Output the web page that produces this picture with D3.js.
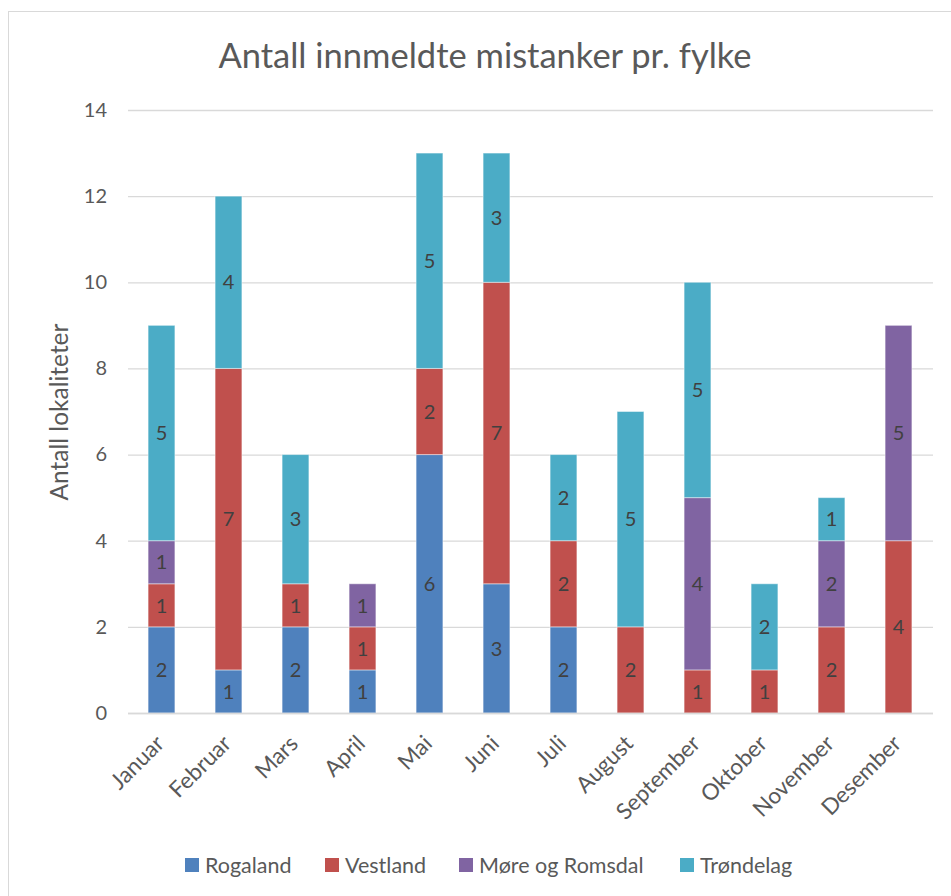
<!DOCTYPE html>
<html><head><meta charset="utf-8">
<script src="https://cdn.jsdelivr.net/npm/d3@7"></script>
<style>body{margin:0;background:#fff}svg{display:block}text{font-family:Lato,"Open Sans",sans-serif}</style>
</head><body><svg id="c" width="951" height="896"></svg>
<script>
const months = ["Januar","Februar","Mars","April","Mai","Juni","Juli","August","September","Oktober","November","Desember"];
const seriesNames = ["Rogaland","Vestland","Møre og Romsdal","Trøndelag"];
const rogaland = [2,1,2,1,6,3,2,0,0,0,0,0];
const vestland = [1,7,1,1,2,7,2,2,1,1,2,4];
const more = [1,0,0,1,0,0,0,0,4,0,2,5];
const trondelag = [5,4,3,0,5,3,2,5,5,2,1,0];
const yTicks = [0,2,4,6,8,10,12,14];
const colors = ["#4F81BD","#C0504D","#8064A2","#4BACC6"];

const data = months.map((m,i)=>({month:m, Rogaland:rogaland[i], Vestland:vestland[i], "Møre og Romsdal":more[i], "Trøndelag":trondelag[i]}));
const stack = d3.stack().keys(seriesNames)(data);

const svg = d3.select("#c");
svg.append("rect").attr("x",8.5).attr("y",11.5).attr("width",960).attr("height",900)
  .attr("fill","#fff").attr("stroke","#d9d9d9").attr("stroke-width",1);

const x = d3.scaleBand().domain(months).range([128,932]).paddingInner(0.6).paddingOuter(0.3);
const y = d3.scaleLinear().domain([0,14]).range([713,110]);

svg.append("text").attr("x",485).attr("y",68).attr("text-anchor","middle")
  .attr("font-size",34.5).attr("fill","#595959").text("Antall innmeldte mistanker pr. fylke");

const yAxis = svg.append("g").attr("transform","translate(128,0)")
  .call(d3.axisLeft(y).tickValues(yTicks).tickSize(-805).tickPadding(21));
yAxis.select(".domain").remove();
yAxis.selectAll(".tick line").attr("stroke","#d9d9d9").attr("stroke-width",1.3);
yAxis.selectAll(".tick text").attr("font-size",20).attr("fill","#595959").attr("font-family","Lato,'Open Sans',sans-serif");

svg.append("text").attr("transform","translate(68,412) rotate(-90)").attr("text-anchor","middle")
  .attr("font-size",24.5).attr("fill","#595959").text("Antall lokaliteter");

const groups = svg.selectAll("g.series").data(stack).enter().append("g").attr("class","series")
  .attr("fill",(d,i)=>colors[i]);
groups.selectAll("rect").data(d=>d.filter(s=>s[1]-s[0]>0)).enter().append("rect")
  .attr("x",d=>x(d.data.month)).attr("width",x.bandwidth())
  .attr("y",d=>y(d[1])).attr("height",d=>y(d[0])-y(d[1]))
  .attr("stroke","rgba(255,255,255,0.45)").attr("stroke-width",1);
groups.selectAll("text").data(d=>d.filter(s=>s[1]-s[0]>0)).enter().append("text")
  .attr("x",d=>x(d.data.month)+x.bandwidth()/2).attr("y",d=>(y(d[0])+y(d[1]))/2)
  .attr("dy","0.36em").attr("text-anchor","middle").attr("font-size",20).attr("fill","#404040")
  .text(d=>d[1]-d[0]);

const xAxis = svg.append("g").attr("transform","translate(0,713)")
  .call(d3.axisBottom(x).tickSize(0).tickPadding(0));
xAxis.select(".domain").attr("stroke","#d9d9d9").attr("stroke-width",1.3).attr("d","M128,0.5H933");
xAxis.selectAll(".tick text").attr("font-size",22.5).attr("fill","#595959").attr("font-family","Lato,'Open Sans',sans-serif")
  .attr("text-anchor","end").attr("transform","translate(4,32) rotate(-45)").attr("dy",0).attr("y",0);

const leg = svg.append("g");
const legX = [185,325,459,680];
seriesNames.forEach((s,i)=>{
  leg.append("rect").attr("x",legX[i]).attr("y",858).attr("width",14).attr("height",14).attr("fill",colors[i]);
  leg.append("text").attr("x",legX[i]+20).attr("y",873).attr("font-size",21.5).attr("fill","#595959").text(s);
});
</script></body></html>
